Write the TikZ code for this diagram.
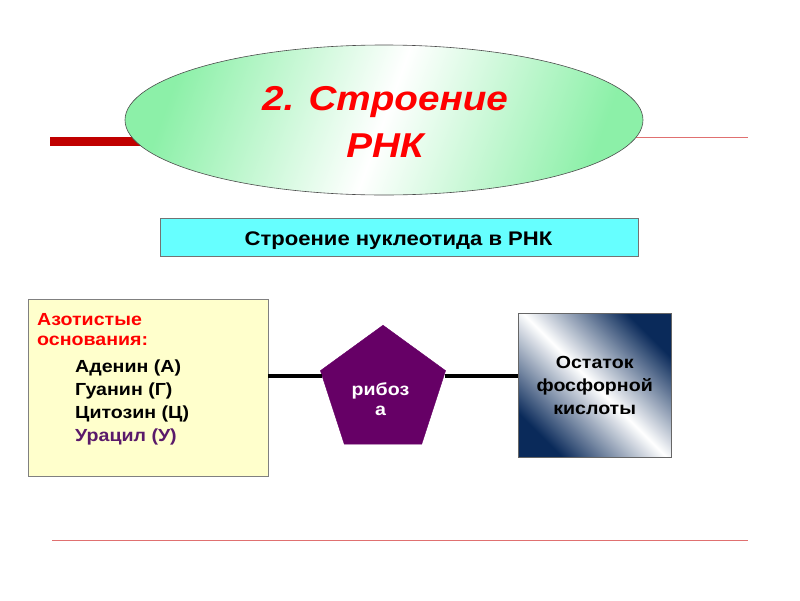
\documentclass[tikz,border=0pt]{standalone}
\usepackage{fontspec}
\setmainfont{Liberation Sans}[FakeStretch=1.12]
\usetikzlibrary{shapes.geometric}
\definecolor{barred}{HTML}{C00000}
\definecolor{thinred}{HTML}{E07070}
\definecolor{mint}{HTML}{8CF0A8}
\definecolor{cyanbox}{HTML}{66FFFF}
\definecolor{yelbox}{HTML}{FFFFCC}
\definecolor{titlered}{HTML}{FF0000}
\definecolor{purp}{HTML}{660066}
\definecolor{navy}{HTML}{0A2A5A}
\definecolor{urac}{HTML}{5A1A6A}
\tikzset{
  conn/.style={line width=3.6pt, black},
  rule/.style={thinred, line width=0.8pt},
  txt/.style={font=\bfseries\fontsize{17.5}{23}\selectfont, inner sep=0pt, anchor=base west},
  ctxt/.style={font=\bfseries\fontsize{17.5}{23}\selectfont, inner sep=0pt, anchor=base},
}
\begin{document}
\begin{tikzpicture}[x=1pt,y=-1pt]
\useasboundingbox (0,0) rectangle (800,600);
% decorative rules
\coordinate (barL) at (50,141.5);
\coordinate (barR) at (200,141.5);
\draw[barred, line width=9pt] (barL) -- (barR);
\coordinate (thL) at (600,137);
\coordinate (thR) at (748,137);
\draw[rule] (thL) -- (thR);
\coordinate (botL) at (52,540);
\coordinate (botR) at (748,540);
\draw[rule] (botL) -- (botR);
% title ellipse
\node[ellipse, draw=black!70, line width=0.6pt, minimum width=518pt, minimum height=150pt,
      left color=mint, right color=mint, middle color=white, shading angle=70,
      inner sep=0pt] (title) at (384,120) {};
\node[text=titlered, font=\bfseries\itshape\fontsize{34.5}{46}\selectfont, anchor=base, inner sep=0pt] (t1) at (385,110) {2. Строение};
\node[text=titlered, font=\bfseries\itshape\fontsize{34.5}{46}\selectfont, anchor=base, inner sep=0pt] (t2) at (385,157) {РНК};
% cyan box
\node[draw=black!55, line width=0.6pt, fill=cyanbox, minimum width=478pt, minimum height=38pt] (sub) at (399,237.5) {};
\node[font=\bfseries\fontsize{19.7}{22}\selectfont, anchor=base, inner sep=0pt] (subtext) at (398.5,245) {Строение нуклеотида в РНК};
% boxes
\coordinate (ly) at (0,376);
\node[draw=black!50, line width=0.6pt, fill=yelbox, minimum width=240pt, minimum height=177pt, inner sep=0pt] (ybox) at (148,387.5) {};
\node[draw=black!60, line width=0.6pt, minimum width=153pt, minimum height=144pt, inner sep=0pt,
      top color=navy, bottom color=navy, middle color=white, shading angle=-45] (gbox) at (594.5,385) {};
\node[regular polygon, regular polygon sides=5, minimum size=131.6pt, inner sep=0pt, fill=purp, draw=purp] (pent) at (383,391) {};
% connectors
\draw[conn] (ybox.east |- ly) -- ([xshift=1.5pt]pent.corner 2 |- ly);
\draw[conn] ([xshift=-1pt]pent.corner 5 |- ly) -- (gbox.west |- ly);
% texts
\node[ctxt, text=white] (rib1) at (380.5,395) {рибоз};
\node[ctxt, text=white] (rib2) at (380.5,415.5) {а};
\node[ctxt] (g1) at (594.7,368) {Остаток};
\node[ctxt] (g2) at (594.7,391.5) {фосфорной};
\node[ctxt] (g3) at (594.7,414.5) {кислоты};
\node[txt, text=titlered] (az1) at (37,325) {Азотистые};
\node[txt, text=titlered] (az2) at (37,345.5) {основания:};
\node[txt] (b1) at (75,372.5) {Аденин (А)};
\node[txt] (b2) at (75,395.5) {Гуанин (Г)};
\node[txt] (b3) at (75,418.5) {Цитозин (Ц)};
\node[txt, text=urac] (b4) at (75,441.5) {Урацил (У)};
\end{tikzpicture}
\end{document}
